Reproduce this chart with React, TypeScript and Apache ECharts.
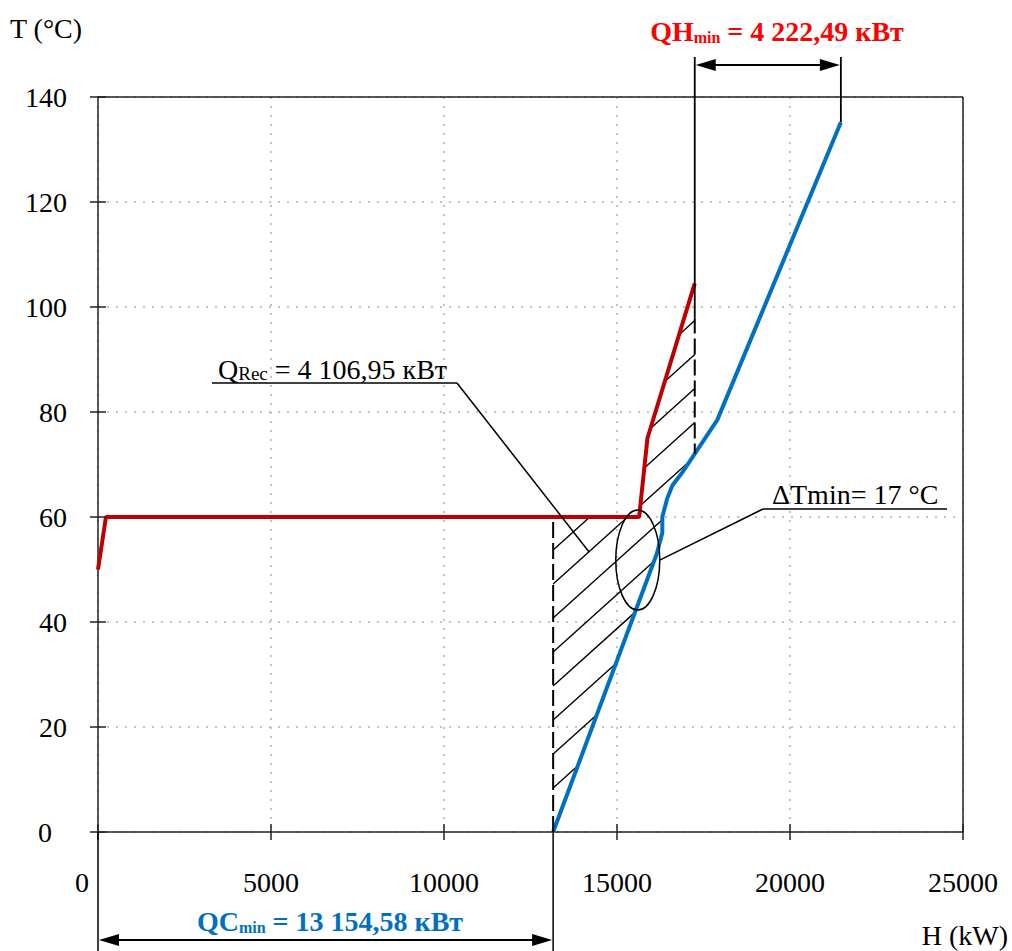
import React, { useEffect, useRef } from "react";
import * as echarts from "echarts";

// ---------- data ----------
const hotCurve: number[][] = [
  [0, 50], [230, 60], [15640, 60], [15880, 75], [17247, 104.5],
];
const coldCurve: number[][] = [
  [13154.58, 0], [16150, 53], [16310, 57], [16310, 60], [16450, 63.5],
  [16600, 66], [16890, 68.5], [17900, 78.5], [21470, 135.2],
];
const xTickValues = [0, 5000, 10000, 15000, 20000, 25000];
const yTickValues = [0, 20, 40, 60, 80, 100, 120, 140];
const X_MAX = 25000;
const Y_MAX = 140;
const QC_MIN = 13154.58;
const QH_MIN = 4222.49;
const Q_REC = 4106.95;
const DT_MIN = 17;
const T_PINCH = 60;
const T_HATCH_TOP = 98;
const PINCH_MARK = [15600, 51.8];
const QREC_POINTER = [14199, 53.3];

const FONT = '"Liberation Serif", "Times New Roman", serif';
const RED = "#C00000";
const BLUE = "#0070C0";

function fmtRu(v: number): string {
  const [i, d] = v.toFixed(2).split(".");
  return i.replace(/\B(?=(\d{3})+(?!\d))/g, " ") + "," + d;
}

function interp(curve: number[][], x: number): number {
  for (let i = 0; i < curve.length - 1; i++) {
    const a = curve[i], b = curve[i + 1];
    if (x >= a[0] && x <= b[0] && b[0] !== a[0]) {
      return a[1] + ((x - a[0]) / (b[0] - a[0])) * (b[1] - a[1]);
    }
  }
  return curve[curve.length - 1][1];
}

const hotEnd = hotCurve[hotCurve.length - 1];
const coldEnd = coldCurve[coldCurve.length - 1];
const coldAtHotEnd = interp(coldCurve, hotEnd[0]);

const hatchPolygon: number[][] = [
  [QC_MIN, 0],
  [QC_MIN, T_PINCH],
  ...hotCurve.filter((p) => p[0] > QC_MIN),
  [hotEnd[0], coldAtHotEnd],
  ...coldCurve.filter((p) => p[0] > QC_MIN && p[0] < hotEnd[0]).reverse(),
];

function arrow(x1: number, x2: number, y: number) {
  const L = 20, W = 6;
  return [
    { type: "line", shape: { x1: x1 + 4, y1: y, x2: x2 - 4, y2: y }, style: { stroke: "#000", lineWidth: 2 } },
    { type: "polygon", shape: { points: [[x1, y], [x1 + L, y - W], [x1 + L, y + W]] }, style: { fill: "#000" } },
    { type: "polygon", shape: { points: [[x2, y], [x2 - L, y - W], [x2 - L, y + W]] }, style: { fill: "#000" } },
  ];
}

export default function App() {
  const ref = useRef<HTMLDivElement>(null);
  useEffect(() => {
    if (!ref.current) return;
    const chart = echarts.init(ref.current, null, { renderer: "svg" });
    const H = 951;

    const option: any = {
      animation: false,
      backgroundColor: "#fff",
      grid: { left: 98, right: 49, top: 97, bottom: 119, show: false },
      xAxis: {
        type: "value", min: 0, max: X_MAX, interval: 5000,
        axisLine: { lineStyle: { color: "#222", width: 1.5 } },
        axisTick: { show: true, length: 8, lineStyle: { color: "#222", width: 1.5 } },
        splitLine: { show: true, lineStyle: { color: "#B0B0B0", type: [2, 7], width: 1.5 } },
        axisLabel: {
          margin: 36, color: "#000", fontSize: 28, fontFamily: FONT,
          formatter: (v: number) => (v === 0 ? "{z|0}" : String(v)),
          rich: { z: { fontSize: 28, fontFamily: FONT, color: "#000", padding: [0, 32, 0, 0] } },
        },
      },
      yAxis: {
        type: "value", min: 0, max: Y_MAX, interval: 20,
        axisLine: { show: true, lineStyle: { color: "#222", width: 1.5 } },
        axisTick: { show: true, length: 8, lineStyle: { color: "#222", width: 1.5 } },
        splitLine: { show: true, lineStyle: { color: "#B0B0B0", type: [2, 7], width: 1.5 } },
        axisLabel: {
          margin: 31, color: "#000", fontSize: 28, fontFamily: FONT,
          formatter: (v: number) => (v === 0 ? "{z|0}" : String(v)),
          rich: { z: { fontSize: 28, fontFamily: FONT, color: "#000", padding: [0, 15, 0, 0] } },
        },
      },
      series: [
        {
          type: "custom", name: "hatch", z: 1, silent: true,
          data: [[0, 0]],
          renderItem: (_p: any, api: any) => {
            const poly = hatchPolygon.map((p) => api.coord(p));
            const m = 0.9, step = 34;
            const c0 = api.coord([QC_MIN, 0]);
            const cStart = c0[1] + m * c0[0] - 44;
            const children: any[] = [];
            for (let k = 0; k < 60; k++) {
              const c = cStart - step * k;
              const xs: number[] = [];
              for (let i = 0; i < poly.length; i++) {
                const a = poly[i], b = poly[(i + 1) % poly.length];
                const fa = a[1] + m * a[0] - c, fb = b[1] + m * b[0] - c;
                if ((fa < 0 && fb >= 0) || (fa >= 0 && fb < 0)) {
                  const t = fa / (fa - fb);
                  xs.push(a[0] + t * (b[0] - a[0]));
                }
              }
              xs.sort((p, q) => p - q);
              for (let j = 0; j + 1 < xs.length; j += 2) {
                children.push({
                  type: "line",
                  shape: { x1: xs[j], y1: c - m * xs[j], x2: xs[j + 1], y2: c - m * xs[j + 1] },
                  style: { stroke: "#000", lineWidth: 1.4 },
                });
              }
            }
            return { type: "group", children };
          },
        },
        {
          type: "line", name: "Hot", data: hotCurve, showSymbol: false, z: 3,
          lineStyle: { color: RED, width: 4 }, itemStyle: { color: RED },
        },
        {
          type: "line", name: "Cold", data: coldCurve, showSymbol: false, z: 3,
          lineStyle: { color: BLUE, width: 4 }, itemStyle: { color: BLUE },
        },
        {
          type: "custom", name: "annotations", z: 4, silent: true,
          data: [[0, 0]],
          renderItem: (_p: any, api: any) => {
            const ch: any[] = [];
            const dashed = { stroke: "#000", lineWidth: 2, lineDash: [16, 5] };
            const ln = (a: number[], b: number[], style: any) =>
              ch.push({ type: "line", shape: { x1: a[0], y1: a[1], x2: b[0], y2: b[1] }, style });
            const frame = { stroke: "#222", lineWidth: 1.5 };
            // frame: top and right borders
            const o = api.coord([0, 0]);
            const tl = api.coord([0, Y_MAX]);
            const tr = api.coord([X_MAX, Y_MAX]);
            const br = api.coord([X_MAX, 0]);
            ln(tl, tr, frame);
            ln(br, tr, frame);
            // inner tick halves
            xTickValues.forEach((v) => { const p = api.coord([v, 0]); ln([p[0], p[1]], [p[0], p[1] - 8], frame); });
            yTickValues.forEach((v) => { const p = api.coord([0, v]); ln([p[0], p[1]], [p[0] + 8, p[1]], frame); });
            // QCmin dimension
            const qc0 = api.coord([QC_MIN, 0]);
            const qcT = api.coord([QC_MIN, T_PINCH]);
            ln(qc0, qcT, dashed);
            ln(qc0, [qc0[0], H], { stroke: "#000", lineWidth: 1.5 });
            ln(o, [o[0], H], { stroke: "#000", lineWidth: 1.5 });
            ch.push(...arrow(o[0] + 1, qc0[0] - 1, 940));
            // QHmin dimension
            const hTop = api.coord([hotEnd[0], T_HATCH_TOP]);
            const hBot = api.coord([hotEnd[0], coldAtHotEnd]);
            const cTop = api.coord(coldEnd);
            ln([hTop[0], 57], hTop, { stroke: "#000", lineWidth: 1.8 });
            ln(hTop, hBot, dashed);
            ln([cTop[0], 57], cTop, { stroke: "#000", lineWidth: 1.8 });
            ch.push(...arrow(hTop[0] + 1, cTop[0] - 1, 65));
            // pinch ellipse and ΔTmin leader
            const pc = api.coord(PINCH_MARK);
            ch.push({ type: "ellipse", shape: { cx: pc[0], cy: pc[1], rx: 22, ry: 50 }, style: { stroke: "#000", lineWidth: 1.5, fill: "none" } });
            ln([pc[0] + 22, pc[1]], [763, 509], { stroke: "#000", lineWidth: 1.5 });
            ln([763, 509], [947, 509], { stroke: "#000", lineWidth: 1.5 });
            // QRec leader
            const qr = api.coord(QREC_POINTER);
            ln(qr, [457, 383], { stroke: "#000", lineWidth: 1.5 });
            ln([457, 383], [212, 383], { stroke: "#000", lineWidth: 1.5 });
            return { type: "group", children: ch };
          },
        },
      ],
      graphic: [
        { type: "text", x: 10, y: 28, style: { text: "T (°C)", fill: "#000", fontSize: 28, fontFamily: FONT, verticalAlign: "middle", align: "left" } },
        { type: "text", x: 1008, y: 935, style: { text: "H (kW)", fill: "#000", fontSize: 28, fontFamily: FONT, verticalAlign: "middle", align: "right" } },
        {
          type: "text", x: 777, y: 31,
          style: {
            text: `{a|QH}{b|min}{a| = ${fmtRu(QH_MIN)} кВт}`, align: "center", verticalAlign: "middle",
            rich: {
              a: { fill: "#FF0000", fontSize: 28, fontWeight: "bold", fontFamily: FONT, verticalAlign: "bottom" },
              b: { fill: "#FF0000", fontSize: 16, fontWeight: "bold", fontFamily: FONT, verticalAlign: "bottom" },
            },
          },
        },
        {
          type: "text", x: 330, y: 921,
          style: {
            text: `{a|QC}{b|min}{a| = ${fmtRu(QC_MIN)} кВт}`, align: "center", verticalAlign: "middle",
            rich: {
              a: { fill: BLUE, fontSize: 28, fontWeight: "bold", fontFamily: FONT, verticalAlign: "bottom" },
              b: { fill: BLUE, fontSize: 16, fontWeight: "bold", fontFamily: FONT, verticalAlign: "bottom" },
            },
          },
        },
        {
          type: "text", x: 218, y: 369,
          style: {
            text: `{a|Q}{b|Rec}{a| = ${fmtRu(Q_REC)} кВт}`, align: "left", verticalAlign: "middle",
            rich: {
              a: { fill: "#000", fontSize: 28, fontFamily: FONT, verticalAlign: "bottom" },
              b: { fill: "#000", fontSize: 19, fontFamily: FONT, verticalAlign: "bottom" },
            },
          },
        },
        { type: "text", x: 772, y: 494, style: { text: `ΔTmin= ${DT_MIN} °C`, fill: "#000", fontSize: 28, fontFamily: FONT, verticalAlign: "middle", align: "left" } },
      ],
    };
    chart.setOption(option);
    return () => chart.dispose();
  }, []);
  return <div ref={ref} style={{ position: "absolute", left: 0, top: 0, width: 1012, height: 951 }} />;
}
